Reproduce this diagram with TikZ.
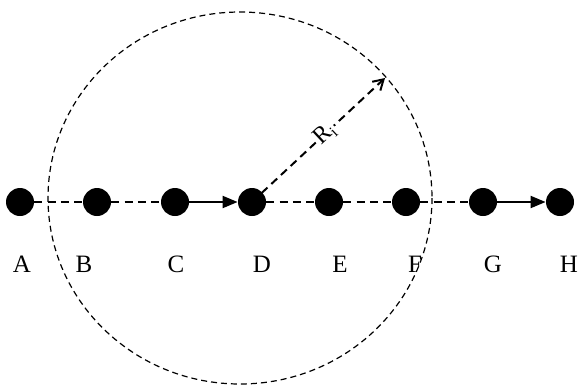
\documentclass[tikz,border=0pt]{standalone}
\usepackage{fontspec}
\setmainfont{Liberation Serif}
\usetikzlibrary{arrows.meta, positioning}

\begin{document}
\begin{tikzpicture}[
    x=0.5pt, y=-0.5pt,
    site/.style={circle, fill=black, minimum size=14pt, inner sep=0pt},
    tag/.style={font=\fontsize{12.5}{14}\selectfont, inner sep=0pt},
    hop/.style={line width=1pt, dash pattern=on 4pt off 2.6pt},
    jump/.style={line width=1pt, -{Triangle[length=7.5pt,width=6pt]}},
]
    \useasboundingbox (0,0) rectangle (583,387);

    % range circle
    \draw[line width=0.6pt, dash pattern=on 3pt off 2pt] (240,198) ellipse [x radius=192, y radius=186];

    % sites
    \node[site] (A) at (20,202) {};
    \node[site] (B) at (97,202) {};
    \node[site] (C) at (175,202) {};
    \node[site] (D) at (252,202) {};
    \node[site] (E) at (329,202) {};
    \node[site] (F) at (406,202) {};
    \node[site] (G) at (483,202) {};
    \node[site] (H) at (560,202) {};

    % labels
    \node[tag] (la) at (22,264) {A};
    \node[tag] (lb) at (84,264) {B};
    \node[tag] (lc) at (176,264) {C};
    \node[tag] (ld) at (262,264) {D};
    \node[tag] (le) at (340,264) {E};
    \node[tag] (lf) at (415,264) {F};
    \node[tag] (lg) at (493,264) {G};
    \node[tag] (lh) at (569,264) {H};

    % links
    \draw[hop] (A) -- (B);
    \draw[hop] (B) -- (C);
    \draw[jump] (C) -- (D);
    \draw[hop] (D) -- (E);
    \draw[hop] (E) -- (F);
    \draw[hop] (F) -- (G);
    \draw[jump] (G) -- (H);

    % radius
    \coordinate (rim) at (385,78);
    \draw[hop, -{Straight Barb[length=5pt,width=6pt]}] (D.center) -- (rim)
        node[pos=0.55, sloped, fill=white, inner sep=0.5pt, font=\fontsize{12}{14}\selectfont] (ri) {R\textsubscript{i}};
\end{tikzpicture}
\end{document}
